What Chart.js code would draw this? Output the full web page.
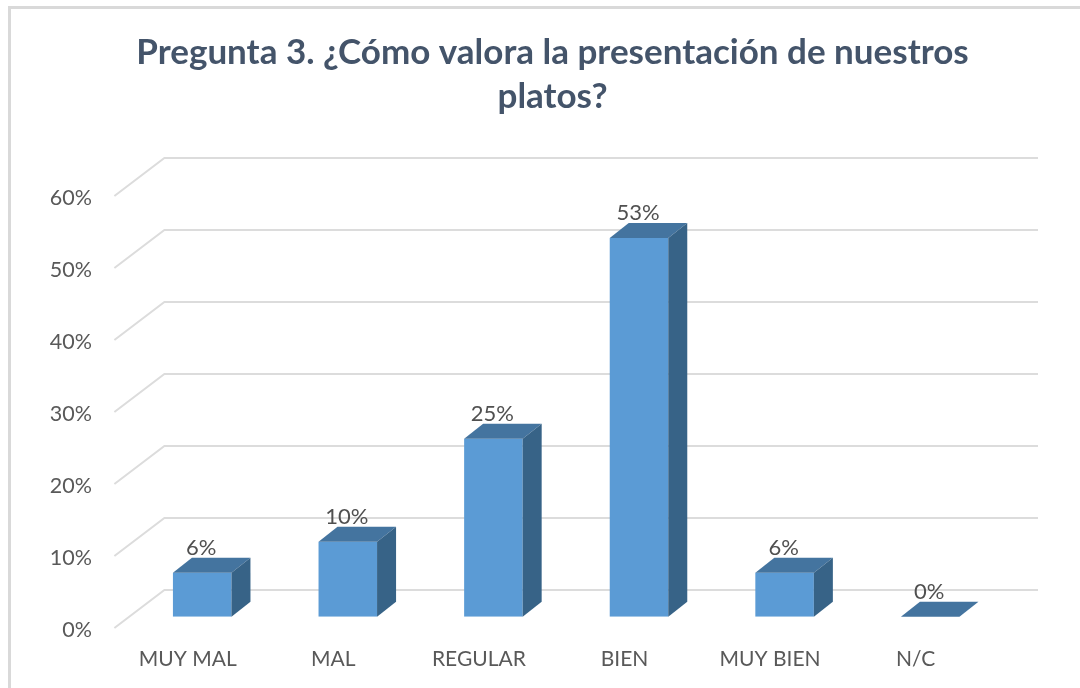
<!DOCTYPE html>
<html lang="es">
<head>
<meta charset="utf-8">
<title>Pregunta 3</title>
<script src="https://cdn.jsdelivr.net/npm/chart.js@4"></script>
<style>
  html, body { margin: 0; padding: 0; background: #fff; overflow: hidden; }
  .frame { position: absolute; left: 8px; top: 6px; width: 1072px; height: 682px;
           border-left: 3px solid #d9d9d9; border-top: 3px solid #d9d9d9; box-sizing: border-box; }
  .wrap { position: absolute; left: 25px; top: 0; width: 1055px; height: 688px; }
  canvas { filter: blur(0.4px); }
</style>
</head>
<body>
<div class="frame"></div>
<div class="wrap"><canvas id="myChart" width="1055" height="688"></canvas></div>
<script>
// datos
const titleLines = ["Pregunta 3. ¿Cómo valora la presentación de nuestros", "platos?"];
const categories = ["MUY MAL", "MAL", "REGULAR", "BIEN", "MUY BIEN", "N/C"];
const percentValues = [6.1, 10.4, 24.7, 52.6, 6.1, 0];
const tickValues = [0, 10, 20, 30, 40, 50, 60];

const GRID_COLOR = "#dcdcdc";
const TEXT_COLOR = "#595959";

// pared, suelo y caras laterales de las barras (efecto 3D)
const fake3d = {
  id: "fake3d",
  beforeDatasetsDraw(chart) {
    const { ctx, scales } = chart;
    const left = scales.x.left - 15;
    ctx.save();
    ctx.strokeStyle = GRID_COLOR;
    ctx.lineWidth = 2;
    tickValues.forEach((v) => {
      const y = scales.y.getPixelForValue(v);
      ctx.beginPath();
      ctx.moveTo(left, y + 11.3);
      ctx.lineTo(left + 50, y - 26.7);
      ctx.lineTo(scales.x.right + 35, y - 26.7);
      ctx.stroke();
    });
    ctx.restore();
  },
  afterDatasetsDraw(chart) {
    const { ctx } = chart;
    const dx = 19;
    const dy = 15;
    ctx.save();
    chart.getDatasetMeta(0).data.forEach((bar, i) => {
      const x0 = bar.x - bar.width / 2;
      const x1 = bar.x + bar.width / 2;
      // cara superior
      ctx.fillStyle = "#44749f";
      ctx.beginPath();
      ctx.moveTo(x0, bar.y);
      ctx.lineTo(x0 + dx, bar.y - dy);
      ctx.lineTo(x1 + dx, bar.y - dy);
      ctx.lineTo(x1, bar.y);
      ctx.closePath();
      ctx.fill();
      // cara lateral
      ctx.fillStyle = "#376387";
      ctx.beginPath();
      ctx.moveTo(x1, bar.y);
      ctx.lineTo(x1 + dx, bar.y - dy);
      ctx.lineTo(x1 + dx, bar.base - dy);
      ctx.lineTo(x1, bar.base);
      ctx.closePath();
      ctx.fill();
      // etiqueta de valor
      ctx.fillStyle = "#505050";
      ctx.font = "22px Lato";
      ctx.textAlign = "center";
      ctx.textBaseline = "middle";
      ctx.fillText(Math.round(percentValues[i]) + "%", bar.x - 1, bar.y - 25);
    });
    ctx.restore();
  },
};

const ctx = document.getElementById("myChart").getContext("2d");
new Chart(ctx, {
  type: "bar",
  data: {
    labels: categories,
    datasets: [
      {
        data: percentValues,
        backgroundColor: "#5b9bd5",
        barPercentage: 0.402,
        categoryPercentage: 1,
      },
    ],
  },
  options: {
    responsive: false,
    animation: false,
    plugins: {
      legend: { display: false },
      tooltip: { enabled: false },
      title: {
        display: true,
        text: titleLines,
        color: "#44546a",
        font: { family: "Lato", size: 35, weight: "bold", lineHeight: 1.257 },
        padding: { top: 31, bottom: 65.7 },
      },
    },
    scales: {
      x: {
        grid: { display: false, drawTicks: false },
        border: { display: false },
        ticks: {
          color: TEXT_COLOR,
          font: { family: "Lato", size: 21 },
          padding: 30,
          labelOffset: -14.5,
          maxRotation: 0,
          autoSkip: false,
        },
        afterFit(scale) {
          scale.height = 71.3;
        },
      },
      y: {
        min: 0,
        max: 60,
        afterBuildTicks(scale) {
          scale.ticks = tickValues.map((v) => ({ value: v }));
        },
        grid: { display: false, drawTicks: false },
        border: { display: false },
        ticks: {
          color: TEXT_COLOR,
          font: { family: "Lato", size: 21.5 },
          padding: 37.4,
          labelOffset: 13.5,
          callback: (v) => v + "%",
        },
        afterFit(scale) {
          scale.width = 104.4;
        },
      },
      // eje vacio: deja el hueco de la derecha sin mover el titulo
      rightGap: {
        position: "right",
        grid: { display: false, drawTicks: false },
        border: { display: false },
        ticks: { display: false },
        afterFit(scale) {
          scale.width = 77;
        },
      },
    },
  },
  plugins: [fake3d],
});
</script>
</body>
</html>
